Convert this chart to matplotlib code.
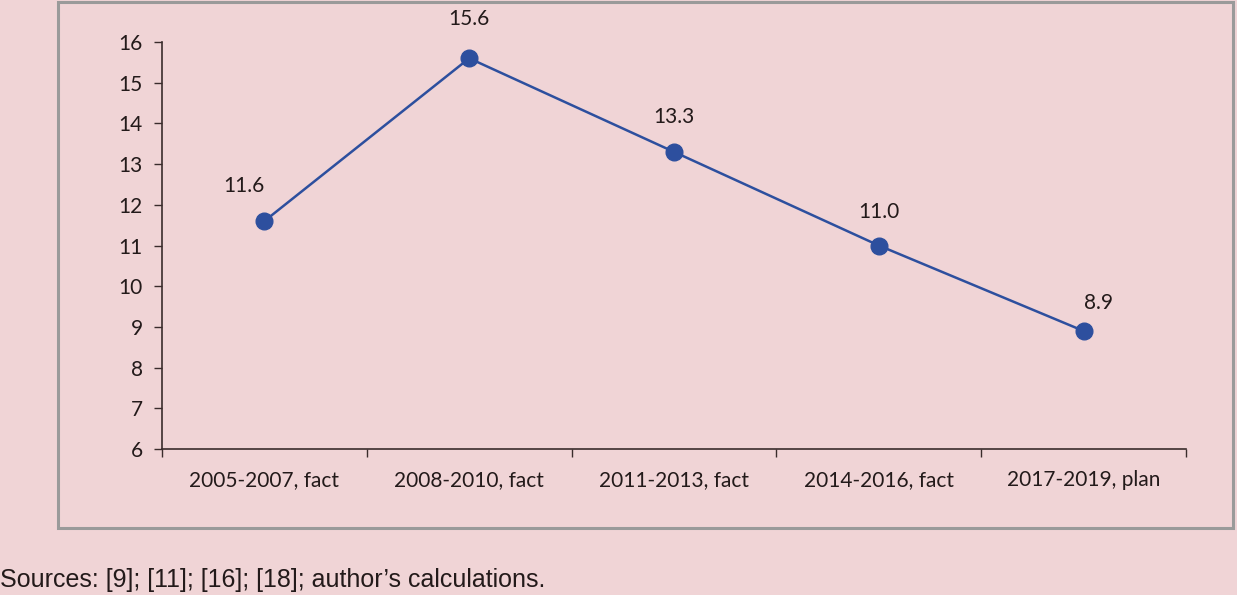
import matplotlib.pyplot as plt
from matplotlib.patches import Rectangle
import numpy as np

periods = ["2005-2007, fact", "2008-2010, fact", "2011-2013, fact",
           "2014-2016, fact", "2017-2019, plan"]
values = [11.6, 15.6, 13.3, 11.0, 8.9]
label_offsets = [(-15, 25), (0, 28), (0, 25), (0, 24), (11, 20)]

bg = "#f0d4d6"
line_col = "#2d4f9e"
axis_col = "#3a2c2c"

plt.rcParams["font.family"] = ["Lato", "DejaVu Sans"]

fig = plt.figure(figsize=(12.37, 5.95), dpi=100, facecolor=bg)
fig.patches.append(Rectangle((58 / 1237, 1 - 528 / 595), 1175 / 1237, 526 / 595,
                             transform=fig.transFigure, fill=False,
                             edgecolor="#9a9a9a", linewidth=2.2))

ax = fig.add_axes([162 / 1237, 1 - 449 / 595, 1024 / 1237, 407 / 595])
ax.set_facecolor(bg)

x = np.arange(len(periods)) + 0.5
ax.plot(x, values, color=line_col, linewidth=1.8, marker="o",
        markersize=12, markerfacecolor=line_col, markeredgecolor=line_col, zorder=3)
for xi, v, off in zip(x, values, label_offsets):
    ax.annotate(f"{v:.1f}", (xi, v), xytext=off, textcoords="offset points",
                ha="center", va="center", fontsize=15, color="#231a1a")

ax.set_xlim(0, len(periods))
ax.set_ylim(6, 16)
ax.set_yticks(range(6, 17))
ax.set_xticks(x)
ax.set_xticklabels(periods)
ax.set_xticks(np.arange(len(periods) + 1), minor=True)
ax.tick_params(axis="x", which="major", length=0, pad=15, labelsize=15, colors="#231a1a")
ax.tick_params(axis="x", which="minor", length=6, width=1, color=axis_col, direction="out")
ax.tick_params(axis="y", length=6, width=1, color=axis_col, pad=8, labelsize=15,
               labelcolor="#231a1a")
for s in ["top", "right"]:
    ax.spines[s].set_visible(False)
for s in ["left", "bottom"]:
    ax.spines[s].set_color(axis_col)
    ax.spines[s].set_linewidth(1.2)

fig.text(0 / 1237, 1 - 587 / 595, "Sources: [9]; [11]; [16]; [18]; author\u2019s calculations.",
         fontsize=18, family="Liberation Sans", color="#231a1a", ha="left", va="baseline")

fig.savefig("out.png", dpi=100, facecolor=bg)
